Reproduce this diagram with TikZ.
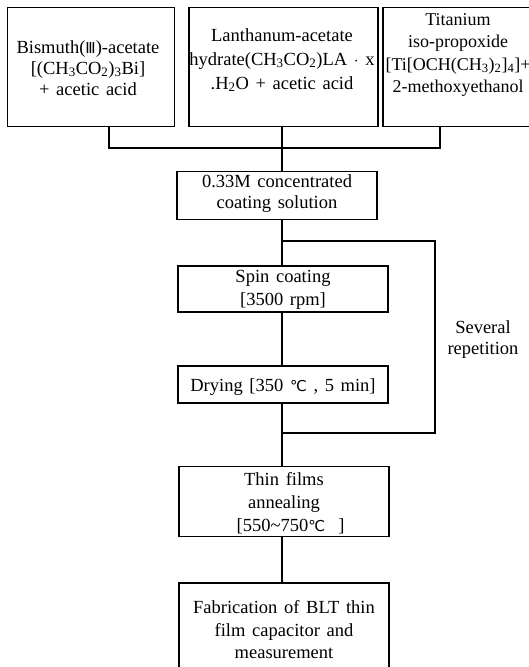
\documentclass[tikz,border=0pt]{standalone}
\usepackage{fontspec}
\setmainfont{Liberation Serif}
\newfontfamily\symfont{DejaVu Sans}
\newcommand{\degC}{{\symfont\fontsize{15}{15}\selectfont ℃}}
\newcommand{\romIII}{{\symfont\fontsize{15}{15}\selectfont Ⅲ}}
\newcommand{\wsp}{\spaceskip=0.36em\relax}
\begin{document}
\begin{tikzpicture}[x=1pt,y=-1pt,
  box/.style={draw, line width=1.3pt, inner sep=0pt},
  txt/.style={align=center, inner sep=0pt, font=\fontsize{18.5}{21}\selectfont\wsp},
  conn/.style={line width=1.3pt}]
\useasboundingbox (0,0) rectangle (529,667);
\clip (0,0) rectangle (529,667);
\fill[white] (0,0) rectangle (529,667);
% boxes
\node[box, minimum width=167, minimum height=119] (b1) at (91,67) {};
\node[box, minimum width=189, minimum height=119] (b2) at (283.5,67) {};
\node[box, minimum width=152, minimum height=119] (b3) at (459,67) {};
\node[box, minimum width=200, minimum height=48] (b4) at (277,195.5) {};
\node[box, minimum width=210, minimum height=46] (spin) at (283,289) {};
\node[box, minimum width=210, minimum height=37] (dry) at (283,384.5) {};
\node[box, minimum width=210, minimum height=70] (thin) at (284,501.5) {};
\node[box, minimum width=210, minimum height=110] (fab) at (284,638) {};
% texts
\node[txt] (b1t) at (88,68) {Bismuth(\romIII)-acetate\\{}[(CH\textsubscript{3}CO\textsubscript{2})\textsubscript{3}Bi]\\+ acetic acid};
\node[txt, font=\fontsize{18.5}{24}\selectfont\wsp] (b2t) at (282,60) {Lanthanum-acetate\\hydrate(CH\textsubscript{3}CO\textsubscript{2})LA $\cdot$ x\\.H\textsubscript{2}O + acetic acid};
\node[txt, font=\fontsize{18}{22.5}\selectfont] (b3t) at (458,55) {Titanium\\iso-propoxide\\{}[Ti[OCH(CH\textsubscript{3})\textsubscript{2}]\textsubscript{4}]+\\2-methoxyethanol};
\node[txt] (b4t) at (277,194) {0.33M concentrated\\coating solution};
\node[txt, font=\fontsize{18.5}{22.5}\selectfont\wsp] (spint) at (283,290) {Spin coating\\{}[3500 rpm]};
\node[txt] (dryt) at (283,387) {Drying [350 \degC\ , 5 min]};
\node[txt, font=\fontsize{18.5}{23}\selectfont\wsp] (thint) at (284,503) {Thin films\\annealing\\{}\ \ [550\textasciitilde750\degC\ \ ]};
\node[txt, font=\fontsize{18.5}{22.5}\selectfont\wsp] (fabt) at (284,630) {Fabrication of BLT thin\\film capacitor and\\measurement};
\node[txt] (rep) at (483,340) {Several\\repetition};
% junction coordinates
\coordinate (jl) at (109,148);
\coordinate (jm) at (282,148);
\coordinate (jr) at (440,148);
\coordinate (lt) at (435,241);
\coordinate (lb) at (435,433);
% connectors
\draw[conn] (b1.south -| jl) -- (jl) -- (jr) -- (b3.south -| jr);
\draw[conn] (b2.south -| jm) -- (jm) -- (b4.north -| jm);
\draw[conn] (b4.south -| jm) -- (spin.north -| jm);
\draw[conn] (spin.south -| jm) -- (dry.north -| jm);
\draw[conn] (dry.south -| jm) -- (thin.north -| jm);
\draw[conn] (thin.south -| jm) -- (fab.north -| jm);
\draw[conn] (lt -| jm) -- (lt) -- (lb) -- (lb -| jm);
\end{tikzpicture}
\end{document}
